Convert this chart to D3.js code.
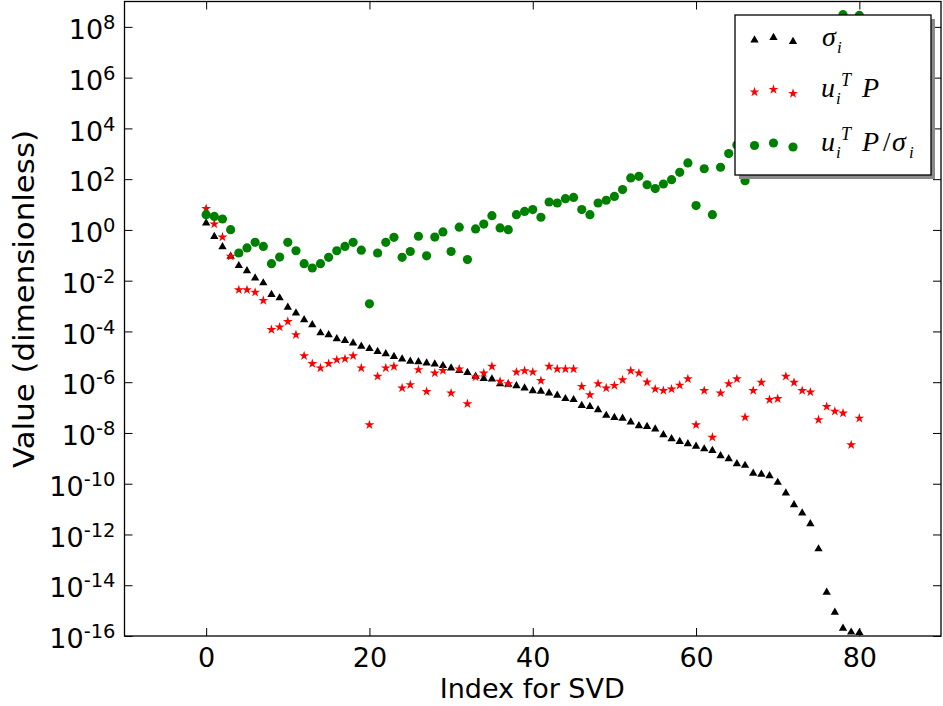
<!DOCTYPE html>
<html>
<head>
<meta charset="utf-8">
<script src="https://cdn.jsdelivr.net/npm/d3@7"></script>
<style>
  body { margin: 0; background: #fff; }
  svg { display: block; }
</style>
</head>
<body>
<svg width="943" height="706"></svg>
<script>
// log10 of the values, index 0..80
const sigmaExp = [0.27, -0.26, -0.67, -1.04, -1.41, -1.61, -1.90, -2.09, -2.55, -2.68,
  -3.05, -3.28, -3.54, -3.74, -4.06, -4.13, -4.29, -4.36, -4.46, -4.59,
  -4.68, -4.79, -4.88, -4.99, -5.09, -5.18, -5.20, -5.25, -5.29, -5.35,
  -5.44, -5.54, -5.62, -5.77, -5.86, -5.88, -6.06, -6.08, -6.14, -6.23,
  -6.34, -6.36, -6.43, -6.52, -6.65, -6.69, -6.92, -6.96, -7.09, -7.31,
  -7.39, -7.42, -7.57, -7.72, -7.75, -7.85, -8.07, -8.23, -8.34, -8.43,
  -8.53, -8.63, -8.69, -8.90, -9.02, -9.22, -9.28, -9.59, -9.63, -9.69,
  -9.95, -10.37, -10.83, -11.16, -11.58, -12.57, -14.28, -15.07, -15.70, -15.85,
  -15.87];

const uPExp = [0.84, 0.23, -0.28, -1.04, -2.36, -2.36, -2.46, -2.78, -3.93, -3.83,
  -3.61, -4.13, -4.96, -5.27, -5.44, -5.27, -5.12, -5.08, -4.96, -5.44,
  -7.68, -5.77, -5.44, -5.38, -6.23, -6.10, -5.51, -6.37, -5.64, -5.54,
  -6.43, -5.48, -6.85, -5.80, -5.64, -5.38, -5.97, -6.06, -5.60, -5.55,
  -5.60, -5.94, -5.38, -5.48, -5.48, -5.48, -6.17, -6.50, -6.06, -6.23,
  -6.13, -5.91, -5.55, -5.64, -6.00, -6.27, -6.33, -6.27, -6.12, -5.87,
  -7.68, -6.33, -8.17, -6.43, -6.06, -5.87, -7.38, -6.33, -6.01, -6.69,
  -6.65, -5.77, -6.01, -6.33, -6.39, -7.48, -6.96, -7.15, -7.22, -8.47,
  -7.42];

// points 67..77 and 79 sit behind the legend box; estimated
const ratioExp = [0.60, 0.53, 0.43, 0.01, -0.91, -0.71, -0.49, -0.65, -1.33, -1.07,
  -0.49, -0.82, -1.33, -1.50, -1.33, -1.08, -0.82, -0.65, -0.49, -0.80,
  -2.91, -0.91, -0.49, -0.29, -1.08, -0.85, -0.25, -1.02, -0.28, -0.08,
  -0.85, 0.11, -1.17, 0.04, 0.23, 0.56, 0.08, 0.01, 0.60, 0.73,
  0.80, 0.50, 1.10, 1.06, 1.23, 1.28, 0.80, 0.60, 1.06, 1.17,
  1.32, 1.59, 2.05, 2.11, 1.78, 1.63, 1.81, 1.98, 2.27, 2.64,
  0.96, 2.41, 0.60, 2.47, 3.01, 3.35, 1.94, 3.26, 3.62, 3.00,
  3.30, 4.60, 4.82, 4.83, 5.19, 5.09, 7.32, 7.92, 8.48, 7.38,
  8.45];

const xTicks = [0, 20, 40, 60, 80];
const yTickExps = [-16, -14, -12, -10, -8, -6, -4, -2, 0, 2, 4, 6, 8];

const svg = d3.select("svg");
const pLeft = 124.5, pRight = 941, pTop = 1.5, pBottom = 636;
const font = "'DejaVu Sans', sans-serif";

const x = d3.scaleLinear().domain([-10, 90]).range([pLeft, pRight]);
const y = d3.scaleLog().domain([1e-16, 1e9]).range([pBottom, pTop]);

svg.append("defs").append("clipPath").attr("id", "clip")
  .append("rect").attr("x", pLeft).attr("y", pTop)
  .attr("width", pRight - pLeft).attr("height", pBottom - pTop);

// markers
const plot = svg.append("g").attr("clip-path", "url(#clip)");
const tri = d3.symbol().type(d3.symbolTriangle).size(30);
const star = d3.symbol().type(d3.symbolStar).size(30);

plot.selectAll(".sig").data(sigmaExp).enter().append("path")
  .attr("d", tri)
  .attr("transform", (d, i) => `translate(${x(i)},${y(Math.pow(10, d))})`)
  .attr("fill", "black");

plot.selectAll(".up").data(uPExp).enter().append("path")
  .attr("d", star)
  .attr("transform", (d, i) => `translate(${x(i)},${y(Math.pow(10, d))})`)
  .attr("fill", "#ff0000");

plot.selectAll(".ratio").data(ratioExp).enter().append("circle")
  .attr("cx", (d, i) => x(i))
  .attr("cy", d => y(Math.pow(10, d)))
  .attr("r", 4.6)
  .attr("fill", "#008000");

// axes, ticks pointing inward on all four sides
const yTicks = yTickExps.map(e => Math.pow(10, e));

const gl = svg.append("g").attr("transform", `translate(${pLeft},0)`)
  .call(d3.axisLeft(y).tickValues(yTicks).tickSize(-8).tickPadding(8).tickFormat(() => ""));
gl.selectAll(".tick text").each(function(d) {
  const t = d3.select(this);
  t.text(null).attr("font-family", font).attr("font-size", 27).attr("fill", "#000")
    .attr("x", -9).attr("dy", "0.43em");
  t.append("tspan").text("10");
  t.append("tspan").attr("font-size", 19.5).attr("dy", -10)
    .text(String(Math.round(Math.log10(d))));
});

svg.append("g").attr("transform", `translate(${pRight},0)`)
  .call(d3.axisRight(y).tickValues(yTicks).tickSize(-8).tickFormat(() => ""));

svg.append("g").attr("transform", `translate(0,${pBottom})`)
  .call(d3.axisBottom(x).tickValues(xTicks).tickSize(-8).tickPadding(12))
  .selectAll("text").attr("font-family", font).attr("font-size", 27).attr("fill", "#000");

svg.append("g").attr("transform", `translate(0,${pTop})`)
  .call(d3.axisTop(x).tickValues(xTicks).tickSize(-8).tickFormat(() => ""));

svg.selectAll(".domain").remove();
svg.selectAll(".tick line").attr("stroke", "#000").attr("stroke-width", 1);

svg.append("rect")
  .attr("x", pLeft).attr("y", pTop)
  .attr("width", pRight - pLeft).attr("height", pBottom - pTop)
  .attr("fill", "none").attr("stroke", "#000").attr("stroke-width", 1.3);

// axis labels
svg.append("text")
  .attr("x", (pLeft + pRight) / 2 - 0.5).attr("y", 698)
  .attr("text-anchor", "middle")
  .attr("font-family", font).attr("font-size", 27)
  .text("Index for SVD");

svg.append("text")
  .attr("transform", "translate(34,299) rotate(-90)")
  .attr("text-anchor", "middle")
  .attr("font-family", font).attr("font-size", 28)
  .attr("textLength", 338).attr("lengthAdjust", "spacingAndGlyphs")
  .text("Value (dimensionless)");

// legend
const lg = svg.append("g");
lg.append("rect").attr("x", 739).attr("y", 19).attr("width", 196).attr("height", 160)
  .attr("fill", "#8a8a8a");
lg.append("rect").attr("x", 735).attr("y", 15).attr("width", 196).attr("height", 160)
  .attr("fill", "#fff").attr("stroke", "#000").attr("stroke-width", 1.3);

const legendRows = [40, 92, 145.5];
const legendDx = [754.5, 773.5, 793];
const legendDy = [0, -2.5, 1.5];
legendDx.forEach((lx, k) => {
  lg.append("path").attr("d", tri)
    .attr("transform", `translate(${lx},${legendRows[0] + legendDy[k]})`).attr("fill", "black");
  lg.append("path").attr("d", star)
    .attr("transform", `translate(${lx},${legendRows[1] + legendDy[k]})`).attr("fill", "#ff0000");
  lg.append("circle").attr("cx", lx).attr("cy", legendRows[2] + legendDy[k])
    .attr("r", 4.6).attr("fill", "#008000");
});

const serif = "'Liberation Serif', serif";
function mathText(px, py, str, size, italic) {
  lg.append("text").attr("x", px).attr("y", py)
    .attr("font-family", serif).attr("font-size", size)
    .attr("font-style", italic ? "italic" : "normal")
    .text(str);
}
// sigma_i
mathText(822, 46, "σ", 28, true);
mathText(837, 53, "i", 17, true);
// u_i^T P
mathText(821, 97, "u", 28, true);
mathText(836, 104, "i", 17, true);
mathText(841, 86, "T", 18, true);
mathText(862, 97, "P", 28, true);
// u_i^T P / sigma_i
mathText(821, 151, "u", 28, true);
mathText(836, 158, "i", 17, true);
mathText(841, 140, "T", 18, true);
mathText(862, 151, "P", 28, true);
mathText(883, 151, "/", 27, false);
mathText(892, 151, "σ", 28, true);
mathText(909, 158, "i", 17, true);
</script>
</body>
</html>
